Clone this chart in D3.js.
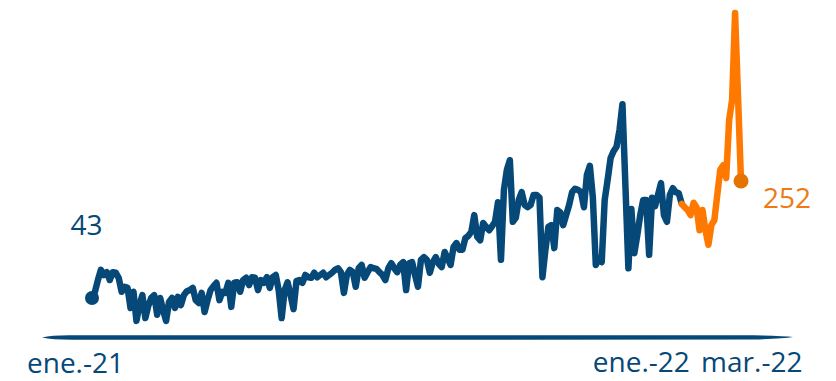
<!DOCTYPE html>
<html>
<head>
<meta charset="utf-8">
<script src="https://cdn.jsdelivr.net/npm/d3@7"></script>
<style>
  html, body { margin: 0; padding: 0; background: #ffffff; }
  svg { display: block; }
  text { font-family: "Open Sans", "Noto Sans", sans-serif; }
</style>
</head>
<body>
<svg id="chart" width="836" height="381"></svg>
<script>
// Daily index sampled every two days, Jan 2021 – mid Mar 2022
const startDate = "2021-01-01";
const stepDays = 2;
const values = [
  43, 54, 75, 93, 84, 89, 75, 89, 88, 79,
  54, 63, 61, 25, 54, 2, 30, 48, 7, 29,
  43, 48, 13, 43, 21, 2, 36, 43, 25, 45,
  30, 48, 55, 57, 61, 39, 34, 52, 18, 39,
  57, 64, 70, 39, 54, 52, 70, 27, 70, 71,
  54, 75, 79, 66, 80, 79, 57, 75, 70, 80,
  61, 80, 84, 57, 7, 57, 71, 48, 23, 73,
  75, 70, 84, 80, 79, 88, 80, 84, 88, 80,
  84, 88, 93, 96, 89, 52, 84, 93, 89, 63,
  96, 102, 79, 89, 98, 96, 95, 89, 84, 75,
  96, 105, 96, 89, 102, 107, 57, 105, 107, 84,
  63, 111, 116, 111, 88, 107, 116, 104, 98, 125,
  114, 102, 134, 141, 129, 129, 150, 154, 161, 191,
  152, 146, 177, 170, 164, 171, 179, 214, 111, 236,
  272, 289, 179, 186, 218, 232, 209, 205, 209, 227,
  227, 222, 80, 129, 170, 173, 132, 200, 196, 173,
  191, 209, 232, 238, 236, 232, 205, 263, 279, 223,
  102, 114, 107, 218, 254, 293, 305, 313, 343, 389,
  243, 96, 202, 123, 155, 191, 218, 218, 120, 222,
  207, 227, 248, 191, 179, 227, 239, 232, 230, 211,
  205, 200, 191, 213, 205, 164, 200, 164, 138, 173,
  182, 227, 272, 280, 257, 361, 397, 552, 402, 252
];
// Index from which the recent stretch is highlighted
const highlightFrom = 199;

const tickDates = ["2021-01-01", "2022-01-01", "2022-03-01"];
const tickLabels = ["ene.-21", "ene.-22", "mar.-22"];

const blue = "#064877";
const orange = "#ff7800";
const orangeDot = "#e57300";
const orangeText = "#ef7a14";

const parse = d3.utcParse("%Y-%m-%d");
const t0 = parse(startDate);
const data = values.map((v, i) => ({ date: d3.utcDay.offset(t0, i * stepDays), value: v }));

const svg = d3.select("#chart");

const x = d3.scaleUtc()
  .domain([data[0].date, data[data.length - 1].date])
  .range([92, 741]);
const y = d3.scaleLinear()
  .domain([0, 552])
  .range([322, 13]);

// Brush-like baseline with tapered ends
const bx0 = 42, bx1 = 793, by = 337.5;
const base = d3.path();
base.moveTo(bx0, by);
base.quadraticCurveTo(bx0 + 10, by - 2.4, bx0 + 30, by - 2.2);
base.lineTo(bx1 - 40, by - 2.2);
base.quadraticCurveTo(bx1 - 10, by - 1.6, bx1, by - 0.4);
base.quadraticCurveTo(bx1 - 10, by + 1.4, bx1 - 40, by + 2.1);
base.lineTo(bx0 + 30, by + 2.2);
base.quadraticCurveTo(bx0 + 10, by + 2.2, bx0, by);
base.closePath();
svg.append("path").attr("d", base.toString()).attr("fill", blue);

const line = d3.line()
  .x(d => x(d.date))
  .y(d => y(d.value));

const blueData = data.slice(0, highlightFrom + 1);
const orangeData = data.slice(highlightFrom);

svg.append("path")
  .datum(blueData)
  .attr("d", line)
  .attr("fill", "none")
  .attr("stroke", blue)
  .attr("stroke-width", 6.5)
  .attr("stroke-linejoin", "round")
  .attr("stroke-linecap", "round");

svg.append("path")
  .datum(orangeData)
  .attr("d", line)
  .attr("fill", "none")
  .attr("stroke", orange)
  .attr("stroke-width", 6.5)
  .attr("stroke-linejoin", "round")
  .attr("stroke-linecap", "round");

// End-point markers and value labels
const first = data[0];
const last = data[data.length - 1];

svg.append("circle")
  .attr("cx", x(first.date)).attr("cy", y(first.value))
  .attr("r", 7).attr("fill", blue);

svg.append("circle")
  .attr("cx", x(last.date)).attr("cy", y(last.value))
  .attr("r", 7.5).attr("fill", orangeDot);

svg.append("text")
  .attr("x", x(first.date) - 5.5)
  .attr("y", y(first.value) - 63)
  .attr("text-anchor", "middle")
  .attr("font-size", 28)
  .attr("fill", blue)
  .text(first.value);

svg.append("text")
  .attr("x", x(last.date) + 22)
  .attr("y", y(last.value) + 27)
  .attr("text-anchor", "start")
  .attr("font-size", 28)
  .attr("fill", orangeText)
  .text(last.value);

// Month labels under the baseline
const labelDx = [-17, 8, 31];
const labelY = [373, 372, 372];
const axis = d3.axisBottom(x)
  .tickValues(tickDates.map(parse))
  .tickFormat((d, i) => tickLabels[i])
  .tickSize(0);

const gAxis = svg.append("g").call(axis);
gAxis.select(".domain").remove();
gAxis.selectAll(".tick text")
  .attr("font-family", "'Open Sans', 'Noto Sans', sans-serif")
  .attr("font-size", 28)
  .attr("fill", blue)
  .attr("text-anchor", "middle")
  .attr("dy", null)
  .attr("y", (d, i) => labelY[i])
  .attr("dx", (d, i) => labelDx[i]);
</script>
</body>
</html>
